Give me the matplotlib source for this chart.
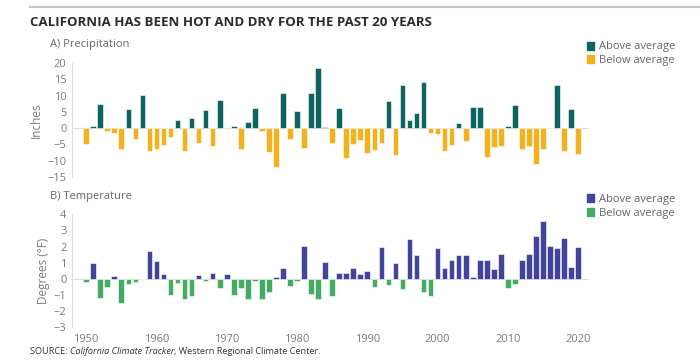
import numpy as np
import matplotlib.pyplot as plt
from matplotlib.patches import Patch
from matplotlib.lines import Line2D

plt.rcParams['font.family'] = ['Open Sans', 'DejaVu Sans']
plt.rcParams['axes.unicode_minus'] = True

years = np.arange(1950, 2021)

# precipitation anomaly (inches)
precip = [-5.0, 0.7, 7.4, -0.9, -1.5, -6.4, 5.8, -3.4, 10.3, -7.0,
          -6.3, -5.3, -2.7, 2.6, -7.0, 3.1, -4.5, 5.5, -5.6, 8.6,
          -0.3, 0.8, -6.5, 2.0, 6.1, -0.8, -7.4, -12.1, 10.9, -3.3,
          5.3, -6.1, 10.9, 18.4, 0.5, -4.7, 6.3, -9.1, -5.0, -3.5,
          -7.7, -6.6, -4.6, 8.3, -8.4, 13.3, 2.5, 4.8, 14.2, -1.4,
          -1.7, -7.1, -5.1, 1.5, -4.0, 6.4, 6.4, -8.8, -5.9, -5.5,
          0.8, 7.0, -6.3, -5.5, -10.9, -6.5, 0.0, 13.4, -7.0, 5.8,
          -8.1]

# temperature anomaly (deg F)
temp = [-0.2, 1.0, -1.2, -0.5, 0.15, -1.5, -0.35, -0.2, 0.0, 1.7,
        1.08, 0.3, -1.0, -0.27, -1.3, -1.1, 0.2, -0.17, 0.37, -0.58,
        0.27, -1.0, -0.6, -1.3, -0.17, -1.3, -0.85, 0.12, 0.65, -0.48,
        -0.12, 2.04, -0.94, -1.27, 1.06, -1.06, 0.33, 0.33, 0.65, 0.3,
        0.46, -0.54, 2.0, -0.37, 1.0, -0.67, 2.45, 1.44, -0.81, -1.06,
        1.88, 0.65, 1.19, 1.46, 1.46, 0.1, 1.17, 1.17, 0.58, 1.52,
        -0.6, -0.35, 1.17, 1.56, 2.65, 3.6, 2.06, 1.88, 2.52, 0.71,
        1.98]

precip_ticks = [-15, -10, -5, 0, 5, 10, 15, 20]
temp_ticks = [-3, -2, -1, 0, 1, 2, 3, 4]
year_ticks = [1950, 1960, 1970, 1980, 1990, 2000, 2010, 2020]

p_up, p_down = '#0e6461', '#f2b21f'
t_up, t_down = '#43439b', '#45aa62'
tick_col = '#7a7a7a'

fig = plt.figure(figsize=(7, 3.61), dpi=100)
ax1 = fig.add_axes([0.103, 0.510, 0.738, 0.315])
ax2 = fig.add_axes([0.103, 0.095, 0.738, 0.311])


def panel(ax, vals, up, down, ticks, ylab):
    vals = np.array(vals)
    cols = [up if v > 0 else down for v in vals]
    ax.axhline(0, color='#dddddd', lw=0.8, zorder=1)
    ax.bar(years, vals, width=0.8, color=cols, edgecolor='white',
           linewidth=0.4, zorder=2)
    ax.set_xlim(1948, 2021.5)
    ax.set_ylim(ticks[0], ticks[-1])
    ax.set_yticks(ticks)
    for s in ['top', 'right', 'bottom']:
        ax.spines[s].set_visible(False)
    ax.spines['left'].set_color('#dddddd')
    ax.spines['left'].set_linewidth(0.8)
    ax.tick_params(length=0, labelsize=8, colors=tick_col, pad=4)
    ax.set_ylabel(ylab, fontsize=8.5, color=tick_col, labelpad=3)


panel(ax1, precip, p_up, p_down, precip_ticks, 'Inches')
ax1.set_xticks([])
panel(ax2, temp, t_up, t_down, temp_ticks, 'Degrees (°F)')
ax2.set_xticks(year_ticks)
ax2.tick_params(axis='x', pad=5)

# top rule and titles
fig.add_artist(Line2D([30 / 700, 1], [1 - 7 / 361] * 2, color='#c4c4c4', lw=1.5))
fig.text(30 / 700, 1 - 22 / 361, 'CALIFORNIA HAS BEEN HOT AND DRY FOR THE PAST 20 YEARS',
         fontsize=9.5, fontweight='bold', color='#2b2b2b', va='center')
fig.text(50 / 700, 1 - 45 / 361, 'A) Precipitation', fontsize=8, color='#666666', va='center')
fig.text(50 / 700, 1 - 197 / 361, 'B) Temperature', fontsize=8, color='#666666', va='center')


def legend(y, up, down):
    h = [Patch(color=up, label='Above average'), Patch(color=down, label='Below average')]
    fig.legend(handles=h, loc='upper left', bbox_to_anchor=(0.838, 1 - y / 361),
               frameon=False, fontsize=8, handlelength=0.7, handleheight=0.7,
               handletextpad=0.4, labelspacing=0.25, borderaxespad=0,
               borderpad=0, labelcolor='#666666')


legend(41.5, p_up, p_down)
legend(194, t_up, t_down)

# source line with italic title
r = fig.canvas.get_renderer()
x0 = 30 / 700
ys = 1 - 352 / 361
parts = [('SOURCE: ', 'normal'), ('California Climate Tracker', 'italic'),
         (', Western Regional Climate Center.', 'normal')]
for txt, st in parts:
    t = fig.text(x0, ys, txt, fontsize=6.6, style=st, color='#333333', va='center')
    bb = t.get_window_extent(renderer=r)
    x0 += bb.width / fig.bbox.width

fig.savefig('out.png', dpi=100)
